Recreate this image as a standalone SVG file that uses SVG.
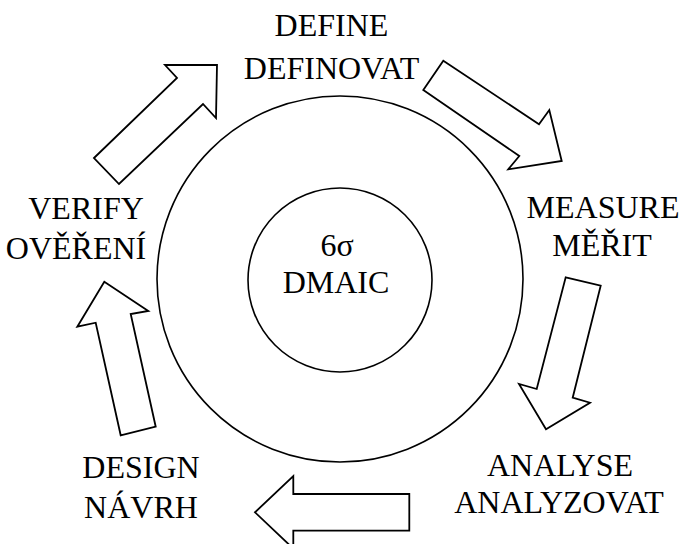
<svg xmlns="http://www.w3.org/2000/svg" width="683" height="544" viewBox="0 0 683 544">
  <style>
    .lbl { font-family: 'Liberation Serif', 'DejaVu Serif', serif; font-size: 32px; fill: #000; text-anchor: middle; }
    .ring { fill: none; stroke: #000; stroke-width: 1.6; }
    .arrow { fill: #fff; stroke: #000; stroke-width: 1.8; stroke-linejoin: miter; }
  </style>
  <rect width="683" height="544" fill="#fff"/>

  <!-- central hub -->
  <g id="hub">
    <circle class="ring" cx="340" cy="279" r="183"/>
    <circle class="ring" cx="340" cy="280" r="92"/>
    <text class="lbl" x="337" y="256">6σ</text>
    <text class="lbl" x="336" y="293">DMAIC</text>
  </g>

  <!-- phase labels -->
  <g id="define">
    <text class="lbl" x="331.5" y="36">DEFINE</text>
    <text class="lbl" x="331.5" y="79">DEFINOVAT</text>
  </g>
  <g id="measure">
    <text class="lbl" x="603" y="218">MEASURE</text>
    <text class="lbl" x="602" y="256">MĚŘIT</text>
  </g>
  <g id="analyse">
    <text class="lbl" x="560" y="476">ANALYSE</text>
    <text class="lbl" x="559" y="513">ANALYZOVAT</text>
  </g>
  <g id="design">
    <text class="lbl" x="141" y="478">DESIGN</text>
    <text class="lbl" x="141" y="518">NÁVRH</text>
  </g>
  <g id="verify">
    <text class="lbl" x="86" y="219">VERIFY</text>
    <text class="lbl" x="76" y="259">OVĚŘENÍ</text>
  </g>

  <!-- block arrows between phases -->
  <g id="connectors">
    <polygon class="arrow" points="94,158 177,78 165,65 217,65 216,118 203,104 119,184"/>
    <polygon class="arrow" points="443.3,60.7 539,124.3 549.3,110 561.7,161 508.3,169.3 519.3,156 423.3,90"/>
    <polygon class="arrow" points="565.7,277.3 600.7,285.7 572.7,397.7 590,402.7 546,429.3 519,384 536.7,389"/>
    <polygon class="arrow" points="409.3,494 293.3,494 293.3,476 255,512.3 293.3,548.6 293.3,530.7 409.3,530.7"/>
    <polygon class="arrow" points="120.7,435.3 155.7,426.7 130.7,314 148.3,311 104.3,281.7 77.3,326.7 95.7,322.7"/>
  </g>
</svg>
